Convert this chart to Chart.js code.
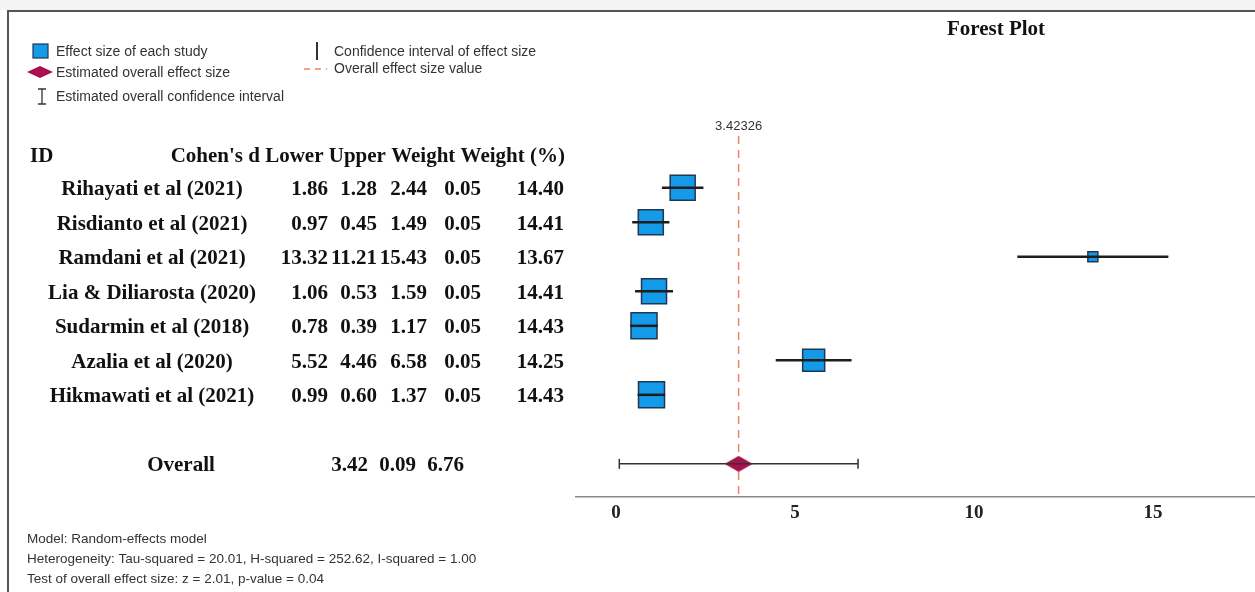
<!doctype html>
<html>

<head>
	<title>Forest Plot</title>
	<script src="https://cdn.jsdelivr.net/npm/chart.js@4.4.0/dist/chart.umd.min.js"></script>
	<style>
	html, body { margin: 0; padding: 0; background: #fff; }
	#container { width: 1255px; height: 592px; }
	canvas { display: block; }
	</style>
</head>

<body>
	<div id="container"><canvas id="canvas" width="1255" height="592"></canvas></div>
	<script>
		// study table
		const studies = ['Rihayati et al (2021)', 'Risdianto et al (2021)', 'Ramdani et al (2021)',
			'Lia & Diliarosta (2020)', 'Sudarmin et al (2018)', 'Azalia et al (2020)', 'Hikmawati et al (2021)'];
		const cohensD = [1.86, 0.97, 13.32, 1.06, 0.78, 5.52, 0.99];
		const lower = [1.28, 0.45, 11.21, 0.53, 0.39, 4.46, 0.60];
		const upper = [2.44, 1.49, 15.43, 1.59, 1.17, 6.58, 1.37];
		const weight = [0.05, 0.05, 0.05, 0.05, 0.05, 0.05, 0.05];
		const weightPct = [14.40, 14.41, 13.67, 14.41, 14.43, 14.25, 14.43];

		// pooled estimate
		const overallD = 3.42326;
		const overallLower = 0.09;
		const overallUpper = 6.76;

		const xTicks = [0, 5, 10, 15];
		const footnotes = [
			'Model: Random-effects model',
			'Heterogeneity: Tau-squared = 20.01, H-squared = 252.62, I-squared = 1.00',
			'Test of overall effect size: z = 2.01, p-value = 0.04'
		];

		// styling
		const boxSide = [25, 25, 10, 25, 26, 22, 26]; // marker square sides in px
		const overallRow = studies.length + 1;
		const blue = '#139be9';
		const blueEdge = '#1d3855';
		const maroon = '#a9104f';
		const salmon = '#ee8466';
		const serif = "'Liberation Serif', 'Times New Roman', serif";
		const sans = "'Liberation Sans', Arial, sans-serif";

		const diamond = document.createElement('canvas');
		diamond.width = 28;
		diamond.height = 16;
		const dc = diamond.getContext('2d');
		dc.fillStyle = maroon;
		dc.beginPath();
		dc.moveTo(0, 8); dc.lineTo(14, 0); dc.lineTo(28, 8); dc.lineTo(14, 16);
		dc.closePath();
		dc.fill();

		const datasets = [];
		studies.forEach((s, i) => {
			datasets.push({
				label: 'ci-' + i,
				data: [{x: lower[i], y: i}, {x: upper[i], y: i}],
				showLine: true,
				borderColor: '#1e1e1e',
				borderWidth: 2.5,
				pointRadius: 0,
				order: 0
			});
		});
		datasets.push({
			label: 'overall-ci',
			data: [{x: overallLower, y: overallRow}, {x: overallUpper, y: overallRow}],
			showLine: true,
			borderColor: '#333',
			borderWidth: 1.5,
			pointStyle: 'line',
			rotation: 90,
			pointRadius: 5,
			pointBorderWidth: 1.5,
			pointBorderColor: '#333',
			order: 0
		});
		datasets.push({
			label: 'overall',
			data: [{x: overallD, y: overallRow}],
			pointStyle: diamond,
			pointRadius: 10,
			order: 1
		});
		datasets.push({
			label: 'studies',
			data: cohensD.map((d, i) => ({x: d, y: i})),
			pointStyle: 'rect',
			pointRadius: boxSide.map(s => s / (2 * Math.SQRT1_2)),
			backgroundColor: blue,
			borderColor: blueEdge,
			borderWidth: 1.5,
			order: 2
		});
		datasets.push({
			label: 'overall-line',
			data: [{x: overallD, y: -1.5}, {x: overallD, y: 8.96}],
			showLine: true,
			borderColor: salmon,
			borderWidth: 1.5,
			borderDash: [8, 6],
			pointRadius: 0,
			order: 3
		});

		const forestText = {
			id: 'forestText',
			beforeDraw(chart) {
				const c = chart.ctx;
				c.save();
				c.fillStyle = '#f4f4f4';
				c.fillRect(0, 0, chart.width, 10);
				c.restore();
			},
			afterDraw(chart) {
				const c = chart.ctx;
				const ys = chart.scales.y;
				const xs = chart.scales.x;
				c.save();

				// frame
				c.strokeStyle = '#555';
				c.lineWidth = 2;
				c.beginPath();
				c.moveTo(chart.width, 11);
				c.lineTo(8, 11);
				c.lineTo(8, chart.height);
				c.stroke();

				// legend
				c.fillStyle = blue;
				c.strokeStyle = blueEdge;
				c.lineWidth = 1.2;
				c.fillRect(33, 44, 15, 14);
				c.strokeRect(33, 44, 15, 14);
				c.fillStyle = maroon;
				c.beginPath();
				c.moveTo(27, 72); c.lineTo(40, 66); c.lineTo(53, 72); c.lineTo(40, 78);
				c.closePath();
				c.fill();
				c.strokeStyle = '#333';
				c.lineWidth = 1.3;
				c.beginPath();
				c.moveTo(42, 89); c.lineTo(42, 104);
				c.moveTo(38, 89); c.lineTo(46, 89);
				c.moveTo(38, 104); c.lineTo(46, 104);
				c.stroke();
				c.lineWidth = 2;
				c.beginPath();
				c.moveTo(317, 42); c.lineTo(317, 60);
				c.stroke();
				c.strokeStyle = salmon;
				c.lineWidth = 1.5;
				c.setLineDash([6, 5]);
				c.beginPath();
				c.moveTo(304, 69); c.lineTo(327, 69);
				c.stroke();
				c.setLineDash([]);

				c.font = '14px ' + sans;
				c.fillStyle = '#333';
				c.textBaseline = 'middle';
				c.textAlign = 'left';
				c.fillText('Effect size of each study', 56, 52);
				c.fillText('Estimated overall effect size', 56, 73);
				c.fillText('Estimated overall confidence interval', 56, 97);
				c.fillText('Confidence interval of effect size', 334, 52);
				c.fillText('Overall effect size value', 334, 69);

				// title
				c.fillStyle = '#111';
				c.font = 'bold 21px ' + serif;
				c.textAlign = 'center';
				c.fillText('Forest Plot', 996, 29.5);

				// value above dashed line
				c.font = '13px ' + sans;
				c.fillStyle = '#333';
				c.fillText(overallD.toString(), xs.getPixelForValue(overallD), 126.5);

				// table (serif text sits a little high on a middle baseline)
				const dy = 2;
				c.fillStyle = '#111';
				c.font = 'bold 21px ' + serif;
				c.textAlign = 'left';
				c.fillText('ID', 30, 155 + dy);
				c.textAlign = 'right';
				c.fillText("Cohen's d Lower Upper Weight Weight (%)", 565, 155 + dy);
				const cols = [328, 377, 427, 481, 564];
				studies.forEach((s, i) => {
					const y = ys.getPixelForValue(i) + dy;
					c.textAlign = 'center';
					c.fillText(s, 152, y);
					c.textAlign = 'right';
					[cohensD[i], lower[i], upper[i], weight[i], weightPct[i]].forEach((v, k) => {
						c.fillText(v.toFixed(2), cols[k], y);
					});
				});
				const yo = ys.getPixelForValue(overallRow) + dy;
				c.textAlign = 'center';
				c.fillText('Overall', 181, yo);
				c.textAlign = 'right';
				c.fillText(overallD.toFixed(2), 368, yo);
				c.fillText(overallLower.toFixed(2), 416, yo);
				c.fillText(overallUpper.toFixed(2), 464, yo);

				// footnotes
				c.font = '13.5px ' + sans;
				c.fillStyle = '#333';
				c.textAlign = 'left';
				footnotes.forEach((t, i) => c.fillText(t, 27, 539 + i * 20));
				c.restore();
			}
		};

		const ctx = document.getElementById('canvas').getContext('2d');
		window.myChart = new Chart(ctx, {
			type: 'scatter',
			data: {datasets: datasets},
			plugins: [forestText],
			options: {
				responsive: false,
				animation: false,
				layout: {autoPadding: false, padding: {left: 576, top: 136, right: 0, bottom: 0}},
				plugins: {
					legend: {display: false},
					tooltip: {enabled: false},
					title: {display: false}
				},
				scales: {
					x: {
						type: 'linear',
						min: -1.12,
						max: 17.85,
						afterBuildTicks: s => { s.ticks = xTicks.map(v => ({value: v})); },
						afterFit: s => { s.height = 95; },
						grid: {display: false, drawTicks: false},
						border: {display: true, color: '#8a8a8a', width: 1.5},
						ticks: {
							padding: 5,
							color: '#222',
							font: {family: serif, weight: 'bold', size: 19}
						}
					},
					y: {
						type: 'linear',
						display: false,
						reverse: true,
						min: -1.5,
						max: 8.96
					}
				}
			}
		});
	</script>
</body>

</html>
